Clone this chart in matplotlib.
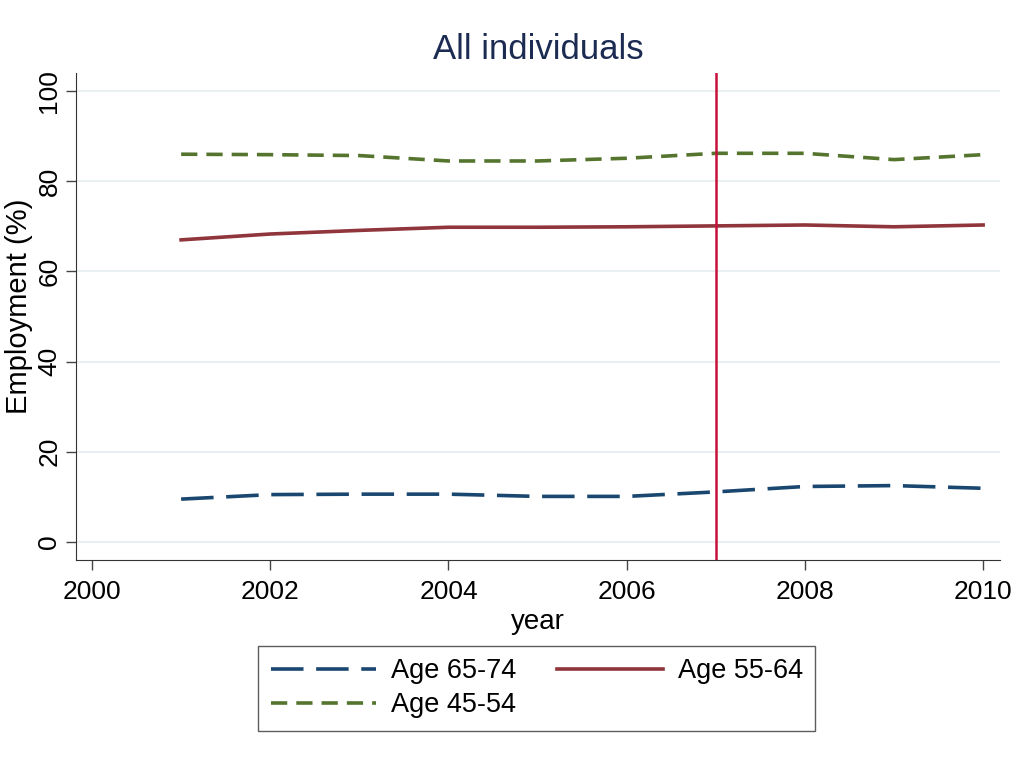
import numpy as np
import matplotlib
matplotlib.use("Agg")
import matplotlib.pyplot as plt

# values
years = [2001, 2002, 2003, 2004, 2005, 2006, 2007, 2008, 2009, 2010]
age_65_74 = [9.5, 10.5, 10.6, 10.6, 10.1, 10.1, 11.1, 12.3, 12.5, 11.9]
age_55_64 = [67.0, 68.3, 69.1, 69.8, 69.8, 69.9, 70.1, 70.3, 69.9, 70.3]
age_45_54 = [86.0, 85.9, 85.7, 84.5, 84.5, 85.1, 86.2, 86.2, 84.8, 85.9]
labels = ["Age 65-74", "Age 55-64", "Age 45-54"]
x_ticks = [2000, 2002, 2004, 2006, 2008, 2010]
y_ticks = [0, 20, 40, 60, 80, 100]
break_year = 2007

plt.rcParams['font.family'] = ['Liberation Sans', 'DejaVu Sans']

fig = plt.figure(figsize=(10.28, 7.69), dpi=100)
ax = fig.add_axes([0.0739, 0.2724, 0.8989, 0.6326])

l1, = ax.plot(years, age_65_74, color="#1a476f", lw=2.6, dashes=(9, 3.5), label=labels[0])
l2, = ax.plot(years, age_55_64, color="#90353b", lw=2.6, label=labels[1])
l3, = ax.plot(years, age_45_54, color="#55752f", lw=2.6, dashes=(4.5, 2.5), label=labels[2])
ax.axvline(break_year, color="#c8103c", lw=1.8)

ax.set_xlim(1999.82, 2010.19)
ax.set_ylim(-3.9, 104.0)
ax.set_xticks(x_ticks)
ax.set_yticks(y_ticks)
ax.grid(axis="y", color="#e8f0f2", lw=1.5)
ax.set_axisbelow(True)

for side in ["top", "right"]:
    ax.spines[side].set_visible(False)
ax.spines["left"].set_color("#333333")
ax.spines["bottom"].set_color("#333333")
ax.tick_params(direction="out", length=7, width=1, color="#444444", labelsize=19)
ax.tick_params(axis="x", pad=8)
for lab in ax.get_yticklabels():
    lab.set_rotation(90)
    lab.set_va("center")

ax.set_title("All individuals", fontsize=25, color="#1c2b52", pad=10)
ax.set_xlabel("year", fontsize=20, labelpad=3)
ax.set_ylabel("Employment (%)", fontsize=21, labelpad=3)
ax.yaxis.label.set_y(0.52)

# legend fills column by column, so order gives rows 65-74|55-64 and 45-54
leg = fig.legend([l1, l3, l2], [labels[0], labels[2], labels[1]],
                 loc="center", bbox_to_anchor=(0.522, 0.105), ncol=2,
                 fontsize=19.5, handlelength=3.9, handletextpad=0.55,
                 columnspacing=1.5, frameon=True, fancybox=False,
                 edgecolor="#333333", borderpad=0.45, labelspacing=0.3)
leg.get_frame().set_linewidth(1.0)

fig.savefig("out.png", dpi=100)
